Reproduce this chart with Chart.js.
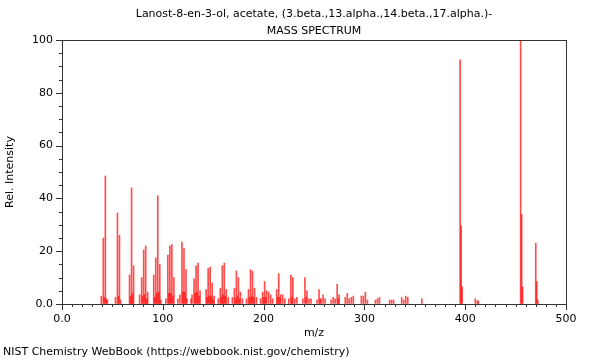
<!DOCTYPE html>
<html>
<head>
<meta charset="utf-8">
<title>Mass spectrum</title>
<script src="https://cdn.jsdelivr.net/npm/chart.js@4.4.1/dist/chart.umd.min.js"></script>
<style>
  html, body { margin: 0; padding: 0; background: #fff; }
  #wrap { position: relative; width: 600px; height: 360px; }
  #footer {
    position: absolute; left: 3px; top: 345px;
    font: 11px "DejaVu Sans", sans-serif; color: #000; white-space: nowrap;
  }
</style>
</head>
<body>
<div id="wrap">
  <canvas id="spectrum" width="600" height="360"></canvas>
  <div id="footer">NIST Chemistry WebBook (https://webbook.nist.gov/chemistry)</div>
</div>
<script>
// Peaks (m/z position and relative intensity)
const titleLines = ['Lanost-8-en-3-ol, acetate, (3.beta.,13.alpha.,14.beta.,17.alpha.)-', 'MASS SPECTRUM'];

const mzValues = [
  39, 41, 42, 43, 44, 45, 53, 55, 56, 57, 58,
  67, 68, 69, 70, 71, 77, 79, 80, 81, 82, 83, 84, 85,
  91, 92, 93, 94, 95, 96, 97, 98, 103, 105, 106, 107, 108, 109, 110, 111,
  115, 117, 119, 120, 121, 122, 123, 124, 128, 129, 131, 132, 133, 134, 135, 136, 137,
  143, 144, 145, 146, 147, 148, 149, 150, 151, 155, 157, 158, 159, 160, 161, 162, 163, 165,
  169, 171, 172, 173, 174, 175, 176, 177, 179, 183, 185, 186, 187, 188, 189, 190, 191, 193,
  197, 199, 200, 201, 202, 203, 205, 207, 209, 213, 214, 215, 216, 217, 219, 221,
  225, 227, 228, 229, 231, 233, 239, 241, 242, 243, 245, 247, 253, 255, 256, 257, 259, 261,
  267, 269, 271, 273, 274, 275, 281, 283, 285, 287, 289, 297, 299, 301, 303,
  311, 313, 315, 325, 327, 329, 337, 339, 341, 343, 357,
  395, 396, 397, 410, 412, 413, 455, 456, 457, 470, 471, 472
];

const intensities = [
  3, 25, 2.5, 48.5, 2, 1.5, 2.5, 34.5, 3, 26, 1.5,
  11, 3, 44, 4, 14.5, 3.5, 10, 3, 20.5, 3.5, 22, 2, 4.5,
  11, 2.5, 17.5, 4, 41, 4.5, 15, 1.5, 2, 18.5, 4, 22, 4, 22.5, 3, 10,
  2, 3.5, 23.5, 4.5, 21, 4.5, 13, 2, 2, 3.5, 9.5, 4, 14.5, 4.5, 15.5, 3, 5,
  5.5, 2.5, 13.5, 3, 14, 3, 8, 1.5, 3, 2, 6, 2.5, 14.5, 3.5, 15.5, 3, 5.5, 2.5,
  2.5, 6, 2, 12.5, 3, 10, 2, 4.5, 2, 2, 5.5, 2.5, 13, 3, 12.5, 2.5, 6, 2.5,
  2, 4.5, 2.5, 8.5, 2.5, 5, 4.5, 3.5, 2, 5.5, 2.5, 11.5, 2.5, 3.5, 3.5, 2,
  2, 11, 2.5, 10, 2, 2.5, 2, 10, 2.5, 5, 2, 2, 1.5, 5.5, 2, 2, 3.5, 2,
  1.5, 2.5, 2, 7.5, 2, 3.5, 2.5, 4, 2, 2.5, 3, 3, 3, 4.5, 1.5,
  1.5, 2, 2.5, 1.5, 1.5, 1.5, 2.5, 1.5, 3, 2.5, 2,
  92.5, 29.5, 6.5, 2, 1.2, 1.2, 100, 34, 6.5, 23, 8.5, 1.5
];

const xTickLabels = { 0: '0.0', 100: '100', 200: '200', 300: '300', 400: '400', 500: '500' };
const yTickLabels = { 0: '0.0', 20: '20', 40: '40', 60: '60', 80: '80', 100: '100' };

const FONT = '"DejaVu Sans", sans-serif';

// frame, minor/major tick marks and the two-line heading
const decorations = {
  id: 'decorations',
  afterDraw(chart) {
    const { ctx, chartArea: a, scales } = chart;
    ctx.save();
    ctx.strokeStyle = '#333';
    ctx.lineWidth = 1;
    ctx.strokeRect(a.left + 0.5, a.top + 0.5, a.right - a.left, a.bottom - a.top);

    ctx.beginPath();
    for (let v = 0; v <= 500; v += 10) {
      const px = Math.round(scales.x.getPixelForValue(v)) + 0.5;
      const len = v % 100 === 0 ? 6 : 3;
      ctx.moveTo(px, a.bottom);
      ctx.lineTo(px, a.bottom + len);
    }
    for (let v = 0; v <= 100; v += 5) {
      const py = Math.round(scales.y.getPixelForValue(v)) + 0.5;
      const len = v % 20 === 0 ? 6 : 3;
      ctx.moveTo(a.left, py);
      ctx.lineTo(a.left - len, py);
    }
    ctx.stroke();

    ctx.fillStyle = '#000';
    ctx.font = '11px ' + FONT;
    ctx.textAlign = 'center';
    ctx.textBaseline = 'middle';
    const cx = (a.left + a.right) / 2;
    ctx.fillText(titleLines[0], cx, 14);
    ctx.fillText(titleLines[1], cx, 31);
    ctx.restore();
  }
};

const ctx = document.getElementById('spectrum').getContext('2d');
new Chart(ctx, {
  type: 'bar',
  data: {
    datasets: [{
      data: mzValues.map((mz, i) => ({ x: mz, y: intensities[i] })),
      backgroundColor: 'rgba(255, 0, 0, 0.7)',
      borderWidth: 0,
      barThickness: 1,
      grouped: false
    }]
  },
  options: {
    responsive: false,
    animation: false,
    layout: { padding: { top: 40, right: 34, bottom: 16, left: 0 } },
    plugins: { legend: { display: false }, tooltip: { enabled: false }, title: { display: false } },
    scales: {
      x: {
        type: 'linear', min: 0, max: 500, offset: false,
        grid: { display: true, drawOnChartArea: false, drawTicks: true, tickLength: 6, color: 'transparent' },
        border: { display: false },
        ticks: {
          stepSize: 100, autoSkip: false, maxRotation: 0, padding: 3,
          color: '#000', font: { family: FONT, size: 11 },
          callback: v => xTickLabels[v] ?? ''
        },
        title: { display: true, text: 'm/z', color: '#000', font: { family: FONT, size: 11 }, padding: 4 },
        afterFit: s => { s.height = 40; }
      },
      y: {
        min: 0, max: 100,
        grid: { display: true, drawOnChartArea: false, drawTicks: true, tickLength: 6, color: 'transparent' },
        border: { display: false },
        ticks: {
          stepSize: 20, padding: 3,
          color: '#000', font: { family: FONT, size: 11 },
          callback: v => yTickLabels[v] ?? ''
        },
        title: { display: true, text: 'Rel. Intensity', color: '#000', font: { family: FONT, size: 11 }, padding: 4 },
        afterFit: s => { s.width = 62; }
      }
    }
  },
  plugins: [decorations]
});
</script>
</body>
</html>
